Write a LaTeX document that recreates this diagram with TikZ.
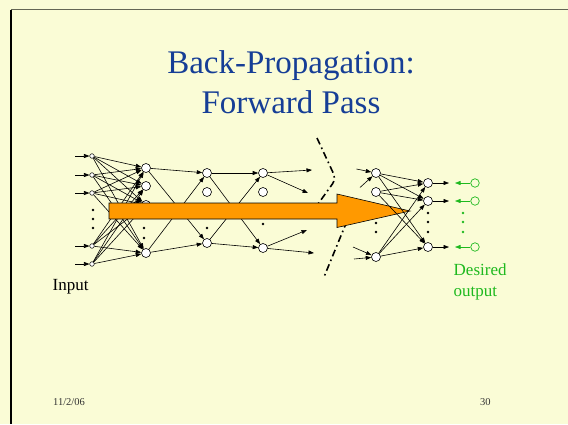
\documentclass[tikz,border=0pt]{standalone}
\usepackage{fontspec}
\setmainfont{Liberation Serif}
\usetikzlibrary{arrows.meta}
\definecolor{slidebg}{RGB}{250,252,214}
\definecolor{titleblue}{RGB}{22,62,150}
\definecolor{passorange}{RGB}{255,153,0}
\definecolor{tgtgreen}{RGB}{30,185,30}
\definecolor{frameolive}{RGB}{100,102,84}
\tikzset{
  unit/.style={draw, circle, fill=white, inner sep=0pt, minimum size=9pt, line width=0.6pt},
  inp/.style={draw, circle, fill=white, inner sep=0pt, minimum size=4.6pt, line width=0.5pt},
  tgt/.style={draw=tgtgreen, circle, inner sep=0pt, minimum size=8.5pt, line width=0.7pt},
  dotn/.style={circle, fill=black, inner sep=0pt, minimum size=2.6pt},
  gdot/.style={circle, fill=tgtgreen, inner sep=0pt, minimum size=2.6pt},
  arr/.style={-{Triangle[length=5.5pt,width=4pt]}, line width=0.6pt},
  garr/.style={arr, draw=tgtgreen, fill=tgtgreen},
  dashdot/.style={line width=1.6pt, dash pattern=on 7pt off 3.5pt on 1.6pt off 3.5pt},
  ttl/.style={font=\fontsize{33}{40}\selectfont, text=titleblue, align=center},
  lbl/.style={font=\fontsize{17}{21.5}\selectfont, inner sep=0pt},
  foot/.style={font=\fontsize{10.5}{12}\selectfont, text=black!80, inner sep=0pt},
}
\begin{document}
\begin{tikzpicture}[x=1pt,y=-1pt]
\fill[slidebg] (0,0) rectangle (568,424);
\useasboundingbox (0,0) rectangle (568,424);
\draw[frameolive, line width=1.5pt] (11,9.5) -- (568,9.5);
\draw[black, line width=1.2pt] (11,9.5) -- (11,424);

\node[ttl] (title) at (291,82) {Back-Propagation:\\Forward Pass};

% input layer
\foreach \n/\y in {1/156,2/175,3/193,4/246,5/264} {
  \node[inp] (i\n) at (92,\y) {};
  \coordinate (s\n) at (75,\y);
  \draw[arr] (s\n) -- (i\n);
}
\foreach \y in {210,219,228} \node[dotn] (di\y) at (93,\y) {};

% hidden layers
\foreach \n/\y in {1/168,2/186,3/205,4/253} \node[unit] (a\n) at (146,\y) {};
\foreach \y in {228,238} \node[dotn] (da\y) at (144,\y) {};
\foreach \n/\y in {1/173,2/192,3/243} \node[unit] (b\n) at (207,\y) {};
\node[dotn] (db) at (207,228) {};
\foreach \n/\y in {1/173,2/192,3/248} \node[unit] (c\n) at (263,\y) {};
\node[dotn] (dc) at (263,224) {};
\foreach \n/\y in {1/173,2/192,3/257} \node[unit] (h\n) at (376,\y) {};
\foreach \y in {223,232} \node[dotn] (dh\y) at (376,\y) {};

% output layer and targets
\foreach \n/\y in {1/183,2/201,3/247} {
  \node[unit] (o\n) at (428,\y) {};
  \coordinate (e\n) at (449,\y);
  \node[tgt] (t\n) at (475,\y) {};
  \coordinate (g\n) at (455,\y);
  \draw[arr] (o\n) -- (e\n);
  \draw[garr] (t\n) -- (g\n);
}
\foreach \y in {213,222,232} {
  \node[dotn] (do\y) at (428,\y) {};
  \node[gdot] (dt\y) at (463,\y) {};
}

% connections
\foreach \i in {1,...,5} \foreach \j in {1,...,4} \draw[arr] (i\i) -- (a\j);
\foreach \p in {a1,a4} \foreach \q in {b1,b3} \draw[arr] (\p) -- (\q);
\foreach \p in {b1,b3} \foreach \q in {c1,c3} \draw[arr] (\p) -- (\q);
\coordinate (c1u) at (312,170);
\coordinate (c1d) at (308,193);
\coordinate (c3u) at (307,230);
\coordinate (c3d) at (314,253);
\draw[arr] (c1) -- (c1u);
\draw[arr] (c1) -- (c1d);
\draw[arr] (c3) -- (c3u);
\draw[arr] (c3) -- (c3d);
\coordinate (h1a) at (356.5,169);
\coordinate (h1b) at (360,187.5);
\coordinate (h3a) at (353,247);
\coordinate (h3b) at (354,259);
\draw[arr] (h1a) -- (h1);
\draw[arr] (h1b) -- (h1);
\draw[arr] (h3a) -- (h3);
\draw[arr] (h3b) -- (h3);

% skipped layers
\draw[dashdot, rounded corners=6pt] (317,138) -- (336,179) -- (318,204);
\draw[dashdot] (347,221) -- (324,277);

% forward pass
\draw[fill=passorange, line width=0.6pt] (109,203) -- (337,203) -- (337,194) -- (410,211)
  -- (337,227.5) -- (337,219) -- (109,219) -- cycle;

\foreach \p in {h1,h2,h3} \foreach \q in {o1,o2,o3} \draw[arr] (\p) -- (\q);

\node[lbl, anchor=base west] (inlbl) at (52.5,290) {Input};
\node[lbl, text=tgtgreen, anchor=north west, align=left] (outlbl) at (453.5,263) {Desired\\output};
\node[foot, anchor=base west] (date) at (53,405) {11/2/06};
\node[foot, anchor=base west] (page) at (480,405) {30};
\end{tikzpicture}
\end{document}
